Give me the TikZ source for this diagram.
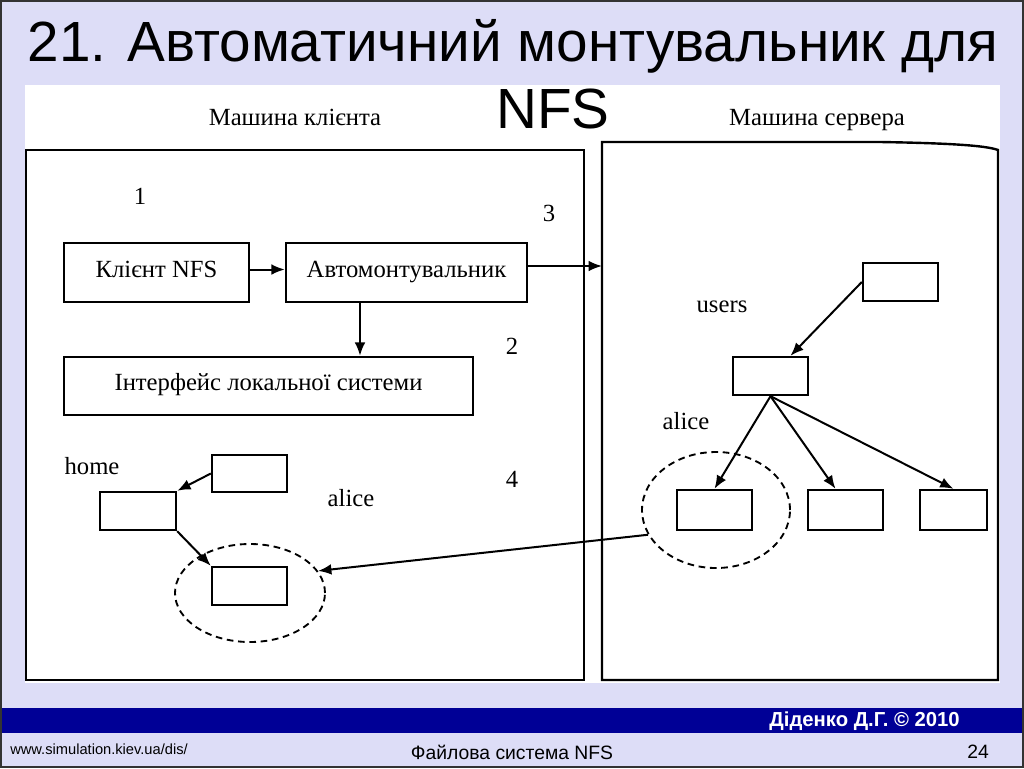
\documentclass[tikz,border=0pt]{standalone}
\usepackage{fontspec}
\setmainfont{Liberation Sans}
\newfontfamily\srf{Liberation Serif}
\usetikzlibrary{arrows.meta,shapes.geometric}
\definecolor{slidebg}{RGB}{221,221,247}
\definecolor{barblue}{RGB}{0,0,150}
\begin{document}
\begin{tikzpicture}[x=0.75pt,y=-0.75pt,
  ln/.style={line width=1.8pt},
  bx/.style={draw,ln,rectangle,inner sep=0pt,fill=white},
  arr/.style={line width=1.5pt,-{Latex[length=10pt,width=8pt]}},
  lbl/.style={font=\srf\fontsize{18.5}{20}\selectfont,inner sep=0pt},
  blbl/.style={lbl,text height=1.6ex,text depth=0.3ex},
  oval/.style={draw,ellipse,line width=1.4pt,dash pattern=on 5pt off 3.5pt,inner sep=0pt}]
\useasboundingbox (0,0) rectangle (1024,768);
\fill[slidebg] (0,0) rectangle (1024,768);
\fill[white] (25,85) rectangle (1000,683);
% containers
\node[draw,ln,rectangle,inner sep=0pt,minimum width=558*0.75pt,minimum height=530*0.75pt] (client) at (305,415) {};
\draw[ln] (602,680) -- (602,142) -- (880,142) .. controls (940,143) and (985,145) .. (998,150) -- (998,680) -- cycle;
\coordinate (srvin) at (602,266);
% headings
\node[blbl] (hcl) at (295,121) {Машина клієнта};
\node[blbl] (hsv) at (817,121) {Машина сервера};
% numbers
\node[lbl] (n1) at (140,196) {1};
\node[lbl] (n3) at (549,213) {3};
\node[lbl] (n2) at (512,346) {2};
\node[lbl] (n4) at (512,479) {4};
% client boxes
\node[bx,blbl,minimum width=185*0.75pt,minimum height=59*0.75pt] (nfs) at (156.5,272.5) {Клієнт NFS};
\node[bx,blbl,minimum width=241*0.75pt,minimum height=59*0.75pt] (auto) at (406.5,272.5) {Автомонтувальник};
\node[bx,blbl,minimum width=409*0.75pt,minimum height=58*0.75pt] (iface) at (268.5,386) {Інтерфейс локальної системи};
\draw[arr] ([yshift=3*0.75pt]nfs.east) -- ([yshift=3*0.75pt]auto.west);
\draw[arr] (auto.east |- srvin) -- (srvin);
\draw[arr] ([xshift=-46.5*0.75pt]auto.south) -- ([xshift=91.5*0.75pt]iface.north);
% client tree
\node[lbl] (thome) at (92,466) {home};
\node[lbl] (talice) at (351,498) {alice};
\node[bx,minimum width=75*0.75pt,minimum height=37*0.75pt] (croot) at (249.5,473.5) {};
\node[bx,minimum width=76*0.75pt,minimum height=38*0.75pt] (chome) at (138,511) {};
\node[oval,minimum width=150*0.75pt,minimum height=98*0.75pt] (cell) at (250,593) {};
\node[bx,minimum width=75*0.75pt,minimum height=38*0.75pt] (calice) at (249.5,586) {};
\draw[arr] (croot.west) -- (chome.north east);
\draw[arr] (chome.south east) -- (calice.north west);
% server tree
\node[lbl] (tusers) at (722,307) {users};
\node[lbl] (salicet) at (686,421) {alice};
\node[bx,minimum width=75*0.75pt,minimum height=38*0.75pt] (sroot) at (900.5,282) {};
\node[bx,minimum width=75*0.75pt,minimum height=38*0.75pt] (susers) at (770.5,376) {};
\node[oval,minimum width=148*0.75pt,minimum height=116*0.75pt] (sell) at (716,510) {};
\node[bx,minimum width=75*0.75pt,minimum height=40*0.75pt] (s1) at (714.5,510) {};
\node[bx,minimum width=75*0.75pt,minimum height=40*0.75pt] (s2) at (845.5,510) {};
\node[bx,minimum width=67*0.75pt,minimum height=40*0.75pt] (s3) at (953.5,510) {};
\draw[arr] (sroot.west) -- ([xshift=20*0.75pt]susers.north);
\draw[arr] (susers.south) -- (s1.north);
\draw[arr] (susers.south) -- ([xshift=-10*0.75pt]s2.north);
\draw[arr] (susers.south) -- (s3.north);
\draw[arr] (sell.200) -- (cell.18);
% title
\node[font=\fontsize{42.5}{46}\selectfont,inner sep=0pt] (title) at (513,46) {21. Автоматичний монтувальник для};
\node[font=\fontsize{42.5}{46}\selectfont,inner sep=0pt] (title2) at (553,109) {NFS};
% footer
\fill[barblue] (0,708) rectangle (1024,733);
\node[font=\bfseries\fontsize{15.2}{17}\selectfont,text=white,anchor=east,inner sep=0pt] (author) at (960,721) {Діденко Д.Г. © 2010};
\node[font=\fontsize{11}{13}\selectfont,anchor=west,inner sep=0pt] (url) at (10,749) {www.simulation.kiev.ua/dis/};
\node[font=\fontsize{14.5}{16}\selectfont,inner sep=0pt] (foot) at (512,752) {Файлова система NFS};
\node[font=\fontsize{14.5}{16}\selectfont,inner sep=0pt] (page) at (978,752) {24};
\draw[line width=1.2pt,black!80] (0.8,0.8) rectangle (1023.2,767.2);
\end{tikzpicture}
\end{document}
